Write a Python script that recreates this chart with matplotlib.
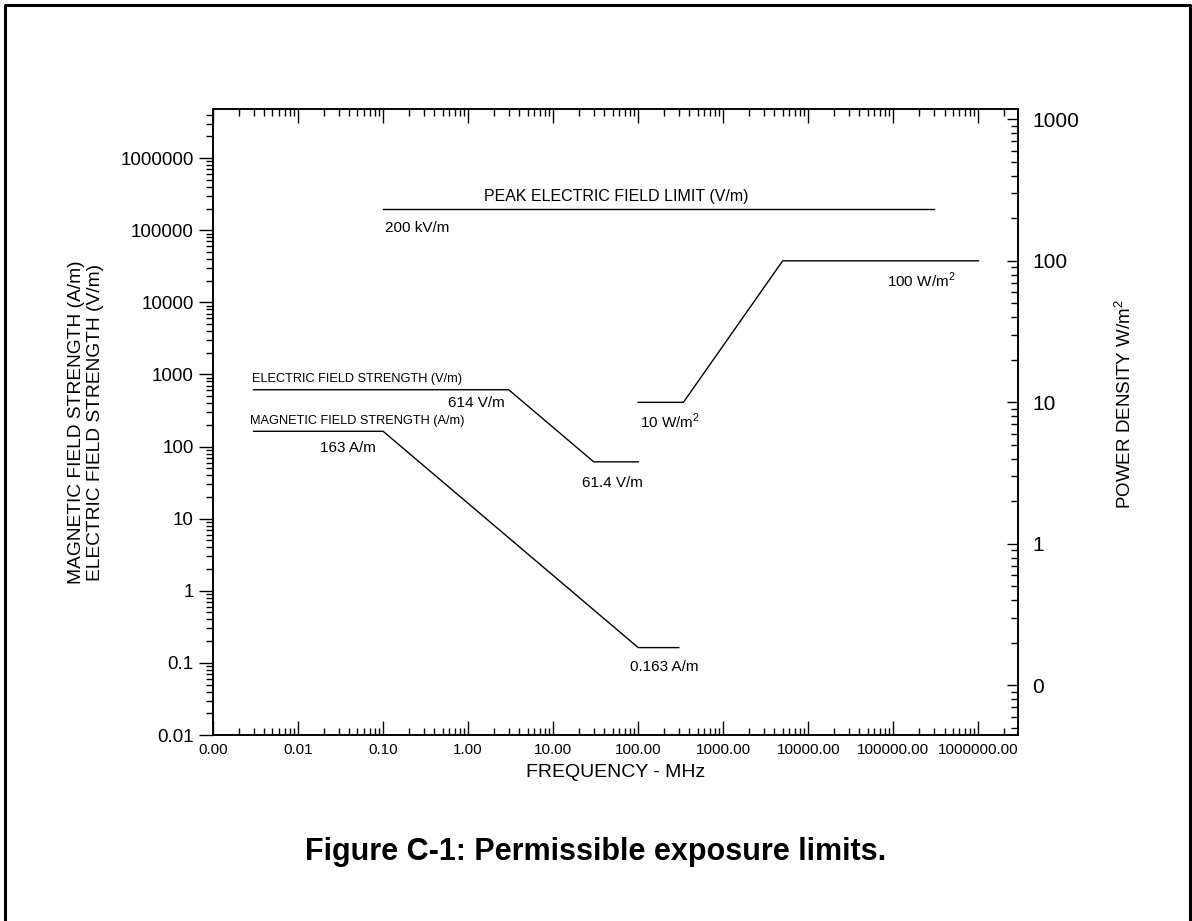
import numpy as np
import matplotlib
matplotlib.use('Agg')
from matplotlib import pyplot as plt
from matplotlib.ticker import LogLocator, FuncFormatter, NullFormatter
from matplotlib.lines import Line2D

plt.rcParams['font.family'] = ['Liberation Sans', 'DejaVu Sans']
plt.rcParams['mathtext.fontset'] = 'custom'
plt.rcParams['mathtext.rm'] = 'Liberation Sans'

# exposure limits (frequency in MHz)
freq_peak = [0.1, 300000]
e_peak = [200000, 200000]              # V/m

freq_e = [0.003, 3, 30, 100]
e_field = [614, 614, 61.4, 61.4]       # V/m

freq_h = [0.003, 0.1, 100, 300]
h_field = [163, 163, 0.163, 0.163]     # A/m

freq_s = [100, 340, 5000, 1000000]
power_density = [10, 10, 100, 100]     # W/m^2

fig = plt.figure(figsize=(11.92, 9.21), dpi=100)
ax = fig.add_axes([213/1192, 1 - 735/921, (1018.3 - 213)/1192, (735 - 109)/921])
ax2 = ax.twinx()

lw = 1.0
ax.plot(freq_peak, e_peak, 'k', lw=lw)
ax.plot(freq_e, e_field, 'k', lw=lw)
ax.plot(freq_h, h_field, 'k', lw=lw)
ax2.plot(freq_s, power_density, 'k', lw=lw)

ax.set_xscale('log')
ax.set_yscale('log')
ax2.set_yscale('log')
ax.set_xlim(0.001, 2.95e6)
ax.set_ylim(0.01, 4.8e6)
ax2.set_ylim(0.0446, 1183)

for a in (ax.xaxis, ax.yaxis, ax2.yaxis):
    a.set_major_locator(LogLocator(base=10, numticks=100))
    a.set_minor_locator(LogLocator(base=10, subs=np.arange(2, 10), numticks=100))
    a.set_minor_formatter(NullFormatter())

ax.xaxis.set_major_formatter(FuncFormatter(lambda v, p: f'{v:.2f}'))
ax.yaxis.set_major_formatter(FuncFormatter(lambda v, p: f'{v:.10g}'))
ax2.yaxis.set_major_formatter(FuncFormatter(lambda v, p: f'{v:.0f}'))

ax.tick_params(axis='x', which='both', direction='in', top=True, bottom=True, labelsize=11, pad=6)
ax.tick_params(axis='x', which='major', length=10, width=1)
ax.tick_params(axis='x', which='minor', length=5, width=1)
ax.tick_params(axis='y', which='both', direction='out', left=True, right=False, labelsize=13.5, pad=4)
ax.tick_params(axis='y', which='major', length=10, width=1)
ax.tick_params(axis='y', which='minor', length=5, width=1)
ax2.tick_params(axis='y', which='both', direction='in', labelsize=15, pad=10)
ax2.tick_params(axis='y', which='major', length=8, width=1)
ax2.tick_params(axis='y', which='minor', length=5, width=1)

for a in (ax, ax2):
    for s in a.spines.values():
        s.set_linewidth(1.2)

# annotations
ax.text(0.5004, 0.861, 'PEAK ELECTRIC FIELD LIMIT (V/m)', transform=ax.transAxes,
        ha='center', va='center', fontsize=11.5)
ax.text(0.2136, 0.810, '200 kV/m', transform=ax.transAxes, ha='left', va='center', fontsize=11)
ax.text(0.0481, 0.5687, 'ELECTRIC FIELD STRENGTH (V/m)', transform=ax.transAxes,
        ha='left', va='center', fontsize=9.2)
ax.text(0.2922, 0.5299, '614 V/m', transform=ax.transAxes, ha='left', va='center', fontsize=11)
ax.text(0.0459, 0.5016, 'MAGNETIC FIELD STRENGTH (A/m)', transform=ax.transAxes,
        ha='left', va='center', fontsize=9.2)
ax.text(0.1329, 0.4585, '163 A/m', transform=ax.transAxes, ha='left', va='center', fontsize=11)
ax.text(0.4578, 0.4026, '61.4 V/m', transform=ax.transAxes, ha='left', va='center', fontsize=11)
ax.text(0.5178, 0.1091, '0.163 A/m', transform=ax.transAxes, ha='left', va='center', fontsize=11)
ax.text(0.5302, 0.5005, '10 W/m$^2$', transform=ax.transAxes, ha='left', va='center', fontsize=11)
ax.text(0.8366, 0.7268, '100 W/m$^2$', transform=ax.transAxes, ha='left', va='center', fontsize=11)

# axis titles
fig.text(616/1192, 1 - 772/921, 'FREQUENCY - MHz', ha='center', va='center', fontsize=14)
fig.text(86/1192, 1 - 422/921, 'MAGNETIC FIELD STRENGTH (A/m)\nELECTRIC FIELD STRENGTH (V/m)',
         rotation=90, ha='center', va='center', multialignment='center', fontsize=13.8)
fig.text(1125/1192, 1 - 404/921, 'POWER DENSITY W/m$^2$', rotation=90,
         ha='center', va='center', fontsize=13.5)

fig.text(0.5, 1 - 852/921, 'Figure C-1: Permissible exposure limits.',
         ha='center', va='center', fontsize=22, fontweight='bold')

# page frame (left, top, right)
frame_x = [4.5/1192, 4.5/1192, 1189.5/1192, 1189.5/1192]
frame_y = [0.0, 1 - 5.5/921, 1 - 5.5/921, 0.0]
fig.add_artist(Line2D(frame_x, frame_y, color='black', lw=2.2, transform=fig.transFigure))

fig.savefig('out.png', dpi=100)
